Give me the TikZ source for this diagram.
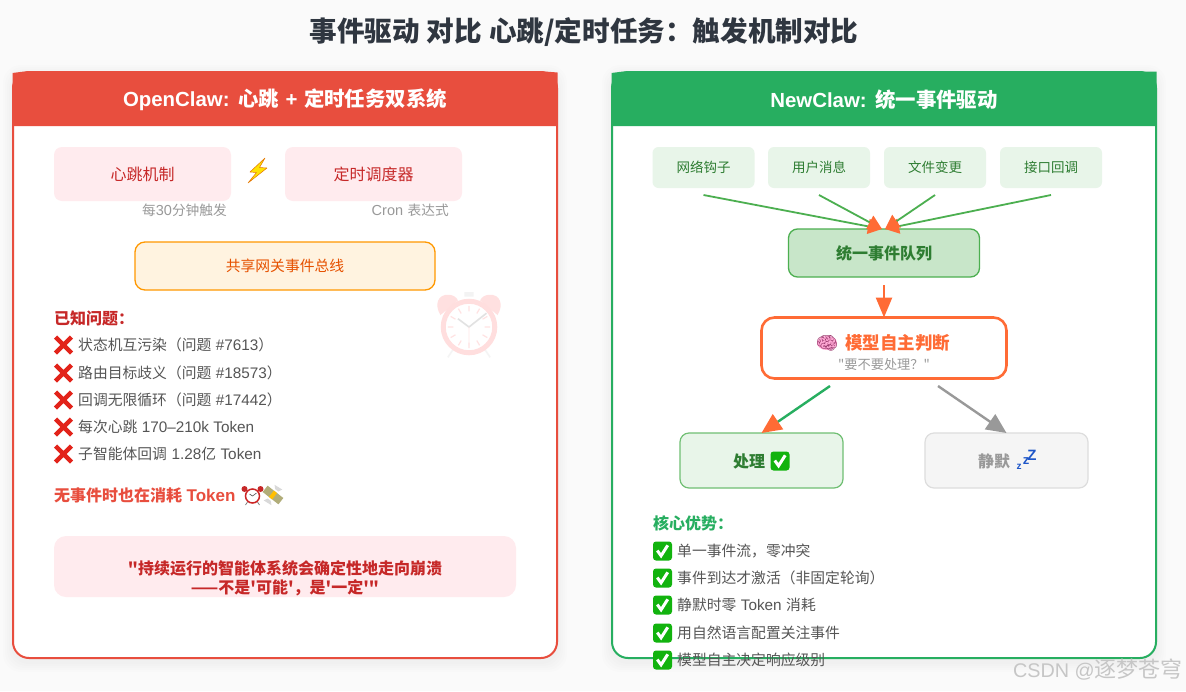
\documentclass[tikz,border=0pt]{standalone}
\usepackage{fontspec}
\setmainfont{Liberation Sans}
\newfontfamily\cj{Noto Sans CJK SC}
\newfontfamily\emo{Noto Emoji}
\usetikzlibrary{arrows.meta,calc}
\definecolor{pagebg}{HTML}{FAFAFA}
\definecolor{redm}{HTML}{E84E3E}
\definecolor{greenm}{HTML}{27AE60}
\definecolor{titlec}{HTML}{2F3640}
\definecolor{pinkbox}{HTML}{FFEBEE}
\definecolor{darkred}{HTML}{C62828}
\definecolor{greyt}{HTML}{999999}
\definecolor{bodyt}{HTML}{555555}
\definecolor{orangeb}{HTML}{FFF3E0}
\definecolor{orangel}{HTML}{FF9800}
\definecolor{oranget}{HTML}{E65100}
\definecolor{hot}{HTML}{FF6B35}
\definecolor{lgreen}{HTML}{E8F5E9}
\definecolor{mgreen}{HTML}{C8E6C9}
\definecolor{sgreen}{HTML}{4CAF50}
\definecolor{dgreen}{HTML}{2E7D32}
\definecolor{silentb}{HTML}{F5F5F5}
\definecolor{silentl}{HTML}{DDDDDD}
\definecolor{xred}{HTML}{E2231A}
\definecolor{okgreen}{HTML}{12B30E}
\definecolor{zblue}{HTML}{1E56C8}
\newcommand\fs[1]{\fontsize{#1}{#1}\selectfont}
\newcommand\lat[1]{{\fontspec{Liberation Sans}\fs{15.3}#1}}
\newcommand\gapsp{\hspace{4.5pt}}
\tikzset{
  boxn/.style={rectangle,rounded corners=#1,inner sep=0pt,outer sep=0pt,align=center},
  boxn/.default=8pt,
  soft/.style={boxn,fill=pinkbox,text=darkred,font=\cj\fs{16}},
  srcbox/.style={boxn=6pt,fill=lgreen,text=dgreen,font=\cj\fs{13.5},minimum width=102pt,minimum height=41pt},
  captxt/.style={inner sep=0pt,text=greyt,font=\cj\fs{13.7},anchor=east},
  item/.style={inner sep=0pt,anchor=west,text=bodyt,font=\cj\fs{14.8}},
  head/.style={inner sep=0pt,anchor=center,text=white,font=\bfseries\fs{20.4}},
  sech/.style={inner sep=0pt,anchor=west,font=\cj\bfseries\fs{16}},
  feed/.style={draw=sgreen,line width=1.8pt,-{Triangle[length=14pt,width=15pt,color=hot]}},
  redx/.pic={\draw[xred,line width=4.3pt] (-8,-8)--(8,8) (-8,8)--(8,-8);},
  okbox/.pic={\fill[okgreen,rounded corners=3pt] (-10,-10) rectangle (10,10);
    \draw[white,line width=3pt] (-5.5,-0.5)--(-1.5,5)--(5.5,-6);},
  alarm/.pic={
    \fill[red!75!white] (-22,-35) .. controls (-34,-36) and (-38,-24) .. (-31,-13) -- (-12,-29) .. controls (-14,-33) and (-18,-35) .. (-22,-35);
    \fill[red!75!white] (22,-35) .. controls (34,-36) and (38,-24) .. (31,-13) -- (12,-29) .. controls (14,-33) and (18,-35) .. (22,-35);
    \fill[gray!55] (-5,-38) rectangle (5,-33);
    \draw[gray!50,line width=1.6pt] (-17,24)--(-23,33) (17,24)--(23,33);
    \draw[red!80!white,fill=white,line width=5pt] (0,0) circle (28);
    \foreach \a in {0,30,...,330}{\draw[red!70!white,line width=1.2pt] (\a:17)--(\a:23);}
    \draw[black!70,line width=1.6pt] (-12,-9)--(0,0)--(19,-15);
    \draw[red!60!white,line width=.6pt] (0,0)--(0,20);
  },
  tinyalarm/.pic={
    \fill[darkred] (-8,-7) circle (3) (8,-7) circle (3);
    \draw[gray,line width=.8pt] (-5,6)--(-7,9) (5,6)--(7,9);
    \draw[darkred!90!red,fill=white,line width=1.5pt] (0,0) circle (7);
    \draw[black!70,line width=.6pt] (-3,-2)--(0,0)--(4,-3);
  },
}
\begin{document}
\begin{tikzpicture}[x=1pt,y=-1pt]
\useasboundingbox (0,0) rectangle (1186,691);
\fill[pagebg] (0,0) rectangle (1186,691);

\node[inner sep=0pt,text=titlec,font=\cj\bfseries\fs{27.6}] (title) at (584,32) {事件驱动\hspace{7pt}对比\hspace{7pt}心跳/定时任务：触发机制对比};

% shadows and panels
\foreach \dd in {10,8,6,4,2}{
  \fill[black,opacity=.007,rounded corners=18pt] (13-\dd,71-\dd+4) rectangle (557+\dd,658+\dd+4);
  \fill[black,opacity=.007,rounded corners=18pt] (612-\dd,71-\dd+4) rectangle (1156+\dd,658+\dd+4);
}
\node[boxn=16pt,draw=redm,line width=2pt,fill=white,minimum width=544pt,minimum height=586pt] (left) at (285,365) {};
\node[boxn=16pt,draw=greenm,line width=2pt,fill=white,minimum width=544pt,minimum height=586pt] (right) at (884,365) {};
\fill[redm] (12.5,126) -- (12.5,73) -- (24,71.5) -- (545,71.5) -- (557.5,72.5) -- (557.5,126) -- cycle;
\fill[greenm] (611.5,126) -- (611.5,73) -- (623,71.5) -- (1156.5,71.5) -- (1156.5,126) -- cycle;
\node[head] (lhead) at (285,100) {OpenClaw:\hspace{1pt} {\cj 心跳}\hspace{1pt} +\hspace{1pt} {\cj 定时任务双系统}};
\node[head] (rhead) at (884,100) {NewClaw:\hspace{1pt} {\cj 统一事件驱动}};

% left panel
\node[soft,minimum width=177pt,minimum height=54pt] (beat) at (142.5,174) {心跳机制};
\node[soft,minimum width=177pt,minimum height=54pt] (cron) at (373.5,174) {定时调度器};
\draw[draw=orange!90!black,fill=yellow!85!orange,line width=.5pt,line join=round]
  (265,158) -- (250,172) -- (256.5,172.5) -- (248,183) -- (267,168) -- (259.5,167.5) -- cycle;
\node[captxt] (beatcap) at (227,210) {每{\fontspec{Liberation Sans}\fs{14.5}30}分钟触发};
\node[captxt] (croncap) at (449,210) {{\fontspec{Liberation Sans}\fs{14.5}Cron}\hspace{1.5pt} 表达式};
\node[boxn=10pt,draw=orangel,line width=1.3pt,fill=orangeb,text=oranget,font=\cj\fs{14.8},minimum width=300pt,minimum height=48pt] (bus) at (285,266) {\raisebox{-1pt}{共享网关事件总线}};

\begin{scope}[opacity=.16,transparency group]
\pic[scale=.92] at (469,327) {alarm};
\end{scope}

\node[sech,text=darkred] (known) at (54,318) {已知问题：};
\foreach \yy in {345,373,400,427,454}{\pic at (63.5,\yy) {redx};}
\node[item] (p1) at (78,345) {状态机互污染（问题\gapsp\lat{\#7613}）};
\node[item] (p2) at (78,373) {路由目标歧义（问题\gapsp\lat{\#18573}）};
\node[item] (p3) at (78,400) {回调无限循环（问题\gapsp\lat{\#17442}）};
\node[item] (p4) at (78,427) {每次心跳\gapsp\lat{170–210k Token}};
\node[item] (p5) at (78,454) {子智能体回调\gapsp\lat{1.28}亿\gapsp\lat{Token}};
\node[sech,text=redm] (noevent) at (54,495) {无事件时也在消耗\gapsp{\fontspec{Liberation Sans}\bfseries\fs{17}Token}};
\pic at (252.5,496) {tinyalarm};
\begin{scope}[shift={(273,495)},rotate=-38]
  \fill[gray!30] (-2,-6) -- (2,-6) -- (4,-10) -- (-5,-9) -- cycle (-2,6) -- (2,6) -- (5,9) -- (-4,10) -- cycle;
  \fill[olive!45!gray!70!white] (-10,-4) rectangle (10,4);
  \fill[orange!50!yellow] (-2,-4) rectangle (2,4);
\end{scope}
\node[boxn=12pt,fill=pinkbox,minimum width=462pt,minimum height=61pt] (quotebox) at (285,566.5) {};
\node[inner sep=0pt,text=darkred,font=\cj\bfseries\fs{16},align=center] (quote) at (285,578) {"持续运行的智能体系统会确定性地走向崩溃\\[3pt]——不是'可能'，是'一定'"};

% right panel
\node[srcbox] (hook) at (703.5,167.5) {\raisebox{-1.5pt}{网络钩子}};
\node[srcbox] (msg) at (819,167.5) {\raisebox{-1.5pt}{用户消息}};
\node[srcbox] (file) at (935,167.5) {\raisebox{-1.5pt}{文件变更}};
\node[srcbox] (api) at (1051,167.5) {\raisebox{-1.5pt}{接口回调}};
\node[boxn=9pt,draw=sgreen,line width=1.3pt,fill=mgreen,text=dgreen,font=\cj\bfseries\fs{16},minimum width=191pt,minimum height=48pt] (queue) at (884,253) {统一事件队列};
\coordinate (qa) at (882,229);
\coordinate (qb) at (885,229);
\draw[feed] ($(hook.south)+(0,7)$) -- (qa);
\draw[feed] ($(api.south)+(0,7)$) -- (qb);
\draw[feed] ($(msg.south)+(0,7)$) -- (qa);
\draw[feed] ($(file.south)+(0,7)$) -- (qb);
\node[boxn=13pt,draw=hot,line width=2.6pt,fill=white,minimum width=245pt,minimum height=61pt] (judge) at (884,348) {};
\draw[draw=hot,line width=2.5pt,shorten <=8pt,-{Triangle[length=20pt,width=16pt,color=hot]}] (queue.south) -- (judge.north);
\node[inner sep=0pt,anchor=west,text=hot,font=\cj\bfseries\fs{17.5}] (judget) at (845,343) {模型自主判断};
\fill[pink!80!magenta!85!white] (827,343) ellipse (10 and 7);
\node[inner sep=0pt,text=magenta!60!black,font=\emo\fs{18}] (brain) at (827,343) {🧠};
\node[inner sep=0pt,text=greyt,font=\cj\fs{13.2}] (judges) at (884,364) {"要不要处理？"};
\node[boxn=9pt,draw=sgreen!80!white,line width=1.2pt,fill=lgreen,minimum width=163pt,minimum height=55pt] (proc) at (761.5,460.5) {};
\node[boxn=9pt,draw=silentl,line width=1.2pt,fill=silentb,minimum width=163pt,minimum height=55pt] (silent) at (1006.5,460.5) {};
\node[inner sep=0pt,anchor=west,text=dgreen,font=\cj\bfseries\fs{16}] (proct) at (733,461) {处理};
\pic[scale=.95] at (780,461) {okbox};
\node[inner sep=0pt,anchor=west,text=greyt,font=\cj\bfseries\fs{16}] (silt) at (978,461) {静默};
\node[inner sep=0pt,text=zblue,font=\bfseries\fs{10}] (z1) at (1019,467) {z};
\node[inner sep=0pt,text=zblue,font=\bfseries\fs{13}] (z2) at (1026,461) {z};
\node[inner sep=0pt,text=zblue,font=\bfseries\fs{15}] (z3) at (1032,455) {Z};
\coordinate (ja) at (830,386);
\coordinate (jb) at (938,386);
\draw[draw=greenm,line width=2.4pt,-{Triangle[length=20pt,width=18pt,color=hot]}] (ja) -- (proc.north);
\draw[draw=greyt,line width=2.4pt,-{Triangle[length=20pt,width=18pt,color=greyt]}] (jb) -- (silent.north);

\node[sech,text=greenm] (core) at (653,523) {核心优势：};
\foreach \yy in {551,578,605,633,660}{\pic[scale=.95] at (662.5,\yy) {okbox};}
\node[item] (a1) at (677,551) {单一事件流，零冲突};
\node[item] (a2) at (677,578) {事件到达才激活（非固定轮询）};
\node[item] (a3) at (677,605) {静默时零\gapsp\lat{Token}\gapsp{}消耗};
\node[item] (a4) at (677,633) {用自然语言配置关注事件};
\node[item] (a5) at (677,660) {模型自主决定响应级别};

\node[inner sep=0pt,anchor=east,text=gray!45,font=\cj\fs{22}] (mark) at (1183,670) {{\fontspec{Liberation Sans}\fs{19.8}CSDN @}逐梦苍穹};
\end{tikzpicture}
\end{document}
